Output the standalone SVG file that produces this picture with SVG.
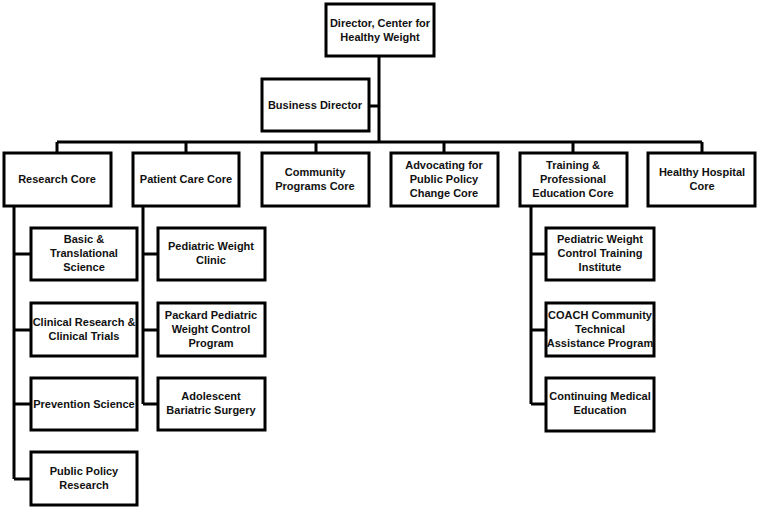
<svg xmlns="http://www.w3.org/2000/svg" width="758" height="507" viewBox="0 0 758 507">
<style>
.b{fill:#fff;stroke:#000;stroke-width:3}
.c{fill:none;stroke:#000;stroke-width:3}
text{font-family:"Liberation Sans",Arial,sans-serif;font-weight:bold;font-size:11px;fill:#111;text-anchor:middle}
</style>
<rect width="758" height="507" fill="#fff"/>
<g id="connectors">
<path class="c" d="M379 56V142M369 106H379M57 142H702M57 142V153M186 142V153M316 142V153M444 142V153M573 142V153M702 142V153"/>
<path class="c" d="M14 206V479M14 254H31M14 330H31M14 404H31M14 479H31"/>
<path class="c" d="M143 206V404M143 254H158M143 330H158M143 404H158"/>
<path class="c" d="M531 206V404M531 254H546M531 330H546M531 404H546"/>
</g>
<g id="director"><rect class="b" x="326" y="4" width="108" height="52"/><text x="380" y="27">Director, Center for</text><text x="380" y="41">Healthy Weight</text></g>
<g id="business"><rect class="b" x="262" y="79" width="107" height="52"/><text x="315" y="109">Business Director</text></g>
<g id="research"><rect class="b" x="4" y="153" width="107" height="53"/><text x="57" y="183">Research Core</text></g>
<g id="patient"><rect class="b" x="133" y="153" width="106" height="53"/><text x="186" y="183">Patient Care Core</text></g>
<g id="community"><rect class="b" x="262" y="153" width="107" height="53"/><text x="315" y="176">Community</text><text x="315" y="190">Programs Core</text></g>
<g id="advocating"><rect class="b" x="391" y="153" width="107" height="53"/><text x="444" y="169">Advocating for</text><text x="444" y="183">Public Policy</text><text x="444" y="197">Change Core</text></g>
<g id="training"><rect class="b" x="520" y="153" width="107" height="53"/><text x="573" y="169">Training &amp;</text><text x="573" y="183">Professional</text><text x="573" y="197">Education Core</text></g>
<g id="hospital"><rect class="b" x="648" y="153" width="107" height="53"/><text x="702" y="176">Healthy Hospital</text><text x="702" y="190">Core</text></g>
<g id="basic"><rect class="b" x="31" y="228" width="106" height="52"/><text x="84" y="243">Basic &amp;</text><text x="84" y="257">Translational</text><text x="84" y="271">Science</text></g>
<g id="clinical"><rect class="b" x="31" y="303" width="106" height="53"/><text x="84" y="326">Clinical Research &amp;</text><text x="84" y="340">Clinical Trials</text></g>
<g id="prevention"><rect class="b" x="31" y="378" width="106" height="52"/><text x="84" y="408">Prevention Science</text></g>
<g id="publicpolicy"><rect class="b" x="31" y="452" width="106" height="53"/><text x="84" y="475">Public Policy</text><text x="84" y="489">Research</text></g>
<g id="pwclinic"><rect class="b" x="158" y="228" width="107" height="52"/><text x="211" y="250">Pediatric Weight</text><text x="211" y="264">Clinic</text></g>
<g id="packard"><rect class="b" x="158" y="303" width="107" height="53"/><text x="211" y="319">Packard Pediatric</text><text x="211" y="333">Weight Control</text><text x="211" y="347">Program</text></g>
<g id="adolescent"><rect class="b" x="158" y="378" width="107" height="52"/><text x="211" y="400">Adolescent</text><text x="211" y="414">Bariatric Surgery</text></g>
<g id="pwcti"><rect class="b" x="546" y="228" width="108" height="52"/><text x="600" y="243">Pediatric Weight</text><text x="600" y="257">Control Training</text><text x="600" y="271">Institute</text></g>
<g id="coach"><rect class="b" x="546" y="303" width="108" height="53"/><text x="600" y="319">COACH Community</text><text x="600" y="333">Technical</text><text x="600" y="347">Assistance Program</text></g>
<g id="cme"><rect class="b" x="546" y="378" width="108" height="53"/><text x="600" y="400">Continuing Medical</text><text x="600" y="414">Education</text></g>
</svg>
